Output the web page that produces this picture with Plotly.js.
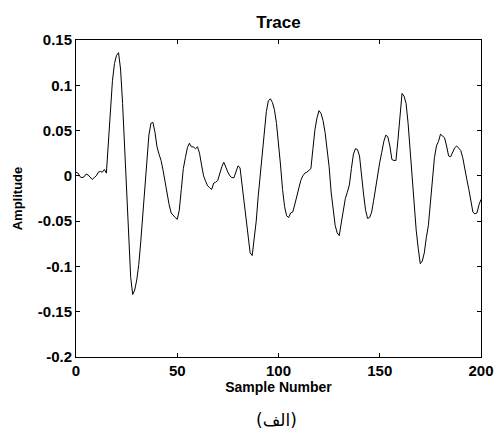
<!DOCTYPE html>
<html>
<head>
<meta charset="utf-8">
<script src="https://cdn.plot.ly/plotly-3.0.1.min.js"></script>
<style>html,body{margin:0;padding:0;background:#fff;}#chart{width:494px;height:432px;}</style>
</head>
<body>
<div id="chart"></div>
<script>
const amplitude = [
  0.004, 0.003, -0.001, -0.002, -0.001, 0.002, 0.001, -0.002, -0.004, -0.002,
  0.000, 0.004, 0.005, 0.004, 0.007, 0.003, 0.040, 0.075, 0.105, 0.124,
  0.133, 0.136, 0.118, 0.080, 0.030, -0.025, -0.075, -0.112, -0.131, -0.126,
  -0.115, -0.098, -0.072, -0.042, -0.010, 0.022, 0.045, 0.058, 0.059, 0.048,
  0.032, 0.024, 0.017, 0.006, -0.008, -0.020, -0.032, -0.041, -0.044, -0.046,
  -0.048, -0.038, -0.015, 0.008, 0.020, 0.031, 0.036, 0.032, 0.032, 0.030,
  0.032, 0.025, 0.012, 0.000, -0.006, -0.011, -0.013, -0.015, -0.008, -0.007,
  -0.005, 0.003, 0.010, 0.015, 0.009, 0.004, 0.000, -0.002, -0.002, 0.004,
  0.011, 0.009, -0.010, -0.030, -0.050, -0.070, -0.085, -0.088, -0.072, -0.050,
  -0.022, 0.000, 0.025, 0.050, 0.071, 0.083, 0.085, 0.081, 0.073, 0.058,
  0.037, 0.012, -0.015, -0.034, -0.044, -0.046, -0.041, -0.040, -0.032, -0.023,
  -0.016, -0.005, 0.000, 0.003, 0.004, 0.006, 0.008, 0.030, 0.051, 0.064,
  0.072, 0.069, 0.061, 0.048, 0.030, 0.010, -0.018, -0.040, -0.055, -0.063,
  -0.066, -0.052, -0.038, -0.025, -0.018, -0.010, 0.008, 0.024, 0.030, 0.029,
  0.022, -0.002, -0.020, -0.038, -0.047, -0.046, -0.040, -0.027, -0.012, 0.002,
  0.015, 0.026, 0.038, 0.045, 0.043, 0.033, 0.018, 0.017, 0.017, 0.040,
  0.068, 0.091, 0.088, 0.080, 0.058, 0.028, -0.005, -0.035, -0.060, -0.080,
  -0.097, -0.094, -0.085, -0.068, -0.055, -0.030, -0.002, 0.020, 0.033, 0.038,
  0.046, 0.044, 0.042, 0.033, 0.022, 0.021, 0.026, 0.031, 0.033, 0.031,
  0.028, 0.020, 0.006, -0.004, -0.015, -0.027, -0.040, -0.042, -0.041, -0.032,
  -0.026
];
const sampleNumber = amplitude.map((_, i) => i);
const xTickVals = [0, 50, 100, 150, 200];
const yTickVals = [-0.2, -0.15, -0.1, -0.05, 0, 0.05, 0.1, 0.15];
const yTickText = ["-0.2", "-0.15", "-0.1", "-0.05", "0", "0.05", "0.1", "0.15"];

const font = "Liberation Sans, Arial, sans-serif";
const trace = {
  x: sampleNumber, y: amplitude, type: "scatter", mode: "lines",
  line: {color: "#000", width: 1}, hoverinfo: "skip"
};
const axisCommon = {
  showline: true, linecolor: "#000", linewidth: 1, mirror: "ticks",
  ticks: "inside", ticklen: 4, tickcolor: "#000", tickwidth: 1,
  showgrid: false, zeroline: false,
  tickfont: {family: font, size: 15, color: "#000", weight: "bold"}
};
const layout = {
  width: 494, height: 432,
  margin: {l: 76, r: 13, t: 40, b: 75},
  paper_bgcolor: "#fff", plot_bgcolor: "#fff",
  showlegend: false,
  title: {text: "<b>Trace</b>", font: {family: font, size: 17, color: "#000"},
          x: 0.5, xanchor: "center", y: 0.948, yanchor: "middle", xref: "paper"},
  xaxis: Object.assign({}, axisCommon, {
    range: [0, 200], tickvals: xTickVals,
    title: {text: "<b>Sample Number</b>", font: {family: font, size: 14, color: "#000"}, standoff: 1}
  }),
  yaxis: Object.assign({}, axisCommon, {
    range: [-0.2, 0.15], tickvals: yTickVals, ticktext: yTickText,
    title: {text: "<b>Amplitude</b>", font: {family: font, size: 13, color: "#000"}, standoff: 12}
  }),
  annotations: [{
    text: "(الف)", xref: "paper", yref: "paper", x: 0.495, y: -0.2,
    xanchor: "center", yanchor: "middle", showarrow: false,
    font: {family: "DejaVu Sans, Noto Sans, sans-serif", size: 17, color: "#000", weight: "normal"}
  }]
};
Plotly.newPlot("chart", [trace], layout, {staticPlot: true, displayModeBar: false});
</script>
</body>
</html>
